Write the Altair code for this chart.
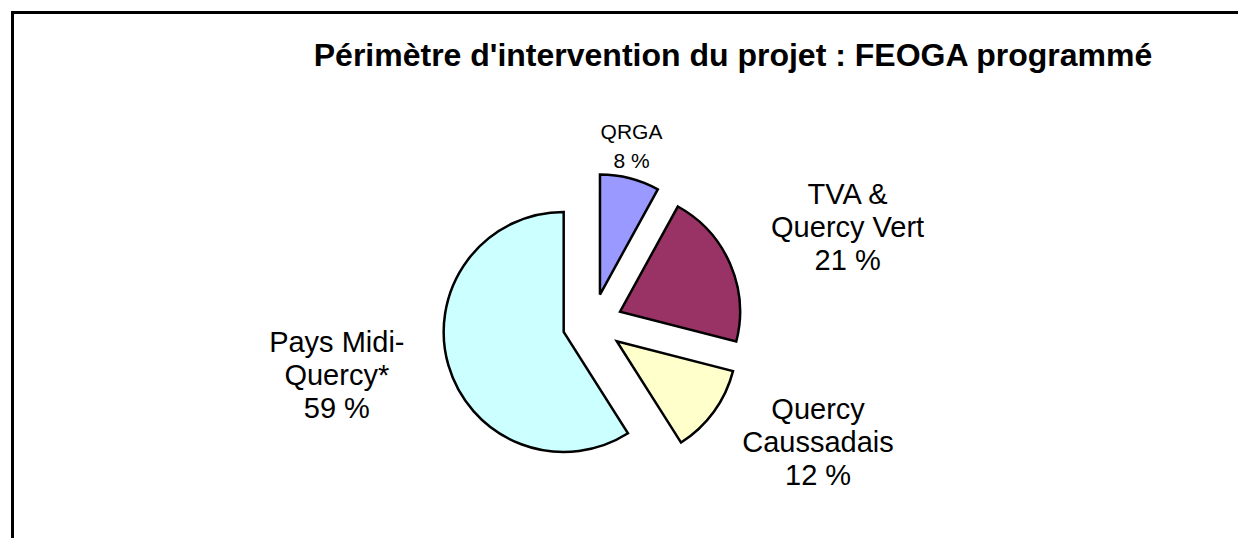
import math
import altair as alt
import pandas as pd

# ---- data ----
categories = ["QRGA", "TVA &\nQuercy Vert", "Quercy\nCaussadais", "Pays Midi-\nQuercy*"]
shares = [8, 21, 12, 59]
colors = ["#9999FF", "#993366", "#FFFFCC", "#CCFFFF"]
title_text = "Périmètre d'intervention du projet : FEOGA programmé"

labels = [f"{c}\n{s} %" for c, s in zip(categories, shares)]
df = pd.DataFrame({
    "category": categories,
    "share": shares,
    "order": list(range(len(categories))),
    "label": labels,
})
TOTAL = sum(shares)

# ---- layout constants ----
W, H = 1230, 530
CX, CY = 584.5, 315.6          # pie centre
PIE_R = 120
EXPLODE = 30
RING_CX, RING_CY = 590, 307    # side label ring centre
RING_A, RING_B = 272, 218      # side label ring radii (label centres)
LABEL_R_TOP = 157              # top label ring (label bottoms)
FONT = "Liberation Sans"

base = alt.Chart(df).transform_window(
    cum="sum(share)", sort=[alt.SortField("order")], frame=[None, 0]
).transform_calculate(
    start="datum.cum - datum.share",
    ang=f"2*PI*(datum.cum - datum.share/2)/{TOTAL}",
).transform_calculate(
    ex=f"{CX} + {EXPLODE}*sin(datum.ang)",
    ey=f"{CY} - {EXPLODE}*cos(datum.ang)",
    side="abs(sin(datum.ang)) >= 0.5",
).transform_calculate(
    lx=f"datum.side ? {RING_CX} + {RING_A}*sin(datum.ang) : {CX} + {LABEL_R_TOP}*sin(datum.ang)",
    ly=f"datum.side ? {RING_CY} - {RING_B}*cos(datum.ang) : {CY} - {LABEL_R_TOP}*cos(datum.ang)",
)

arcs = base.mark_arc(radius=PIE_R, stroke="black", strokeWidth=2.5).encode(
    theta=alt.Theta("start:Q", scale=alt.Scale(domain=[0, TOTAL], range=[0, 2 * math.pi]), stack=None),
    theta2="cum:Q",
    x=alt.X("ex:Q", scale=None, axis=None),
    y=alt.Y("ey:Q", scale=None, axis=None),
    color=alt.Color("category:N", scale=alt.Scale(domain=categories, range=colors), legend=None),
    order=alt.Order("order:Q"),
)

def label_layer(cond, baseline, size, lh, dy):
    return base.transform_filter(cond).mark_text(
        align="center", baseline=baseline, fontSize=size, lineHeight=lh, dy=dy,
        lineBreak="\n", font=FONT, color="black",
    ).encode(
        x=alt.X("lx:Q", scale=None, axis=None),
        y=alt.Y("ly:Q", scale=None, axis=None),
        text="label:N",
    )

# three-line side labels centred on the ring; two-line top label sitting on its ring
side_labels = label_layer("datum.side", "middle", 29, 33, -33)
top_labels = label_layer("!datum.side && cos(datum.ang) > 0", "bottom", 21, 29, -29)
bottom_labels = label_layer("!datum.side && cos(datum.ang) <= 0", "top", 21, 29, 0)

one = pd.DataFrame({"title": [title_text]})
border_left = alt.Chart(one).mark_rule(color="black", strokeWidth=3, strokeCap="square").encode(
    x=alt.value(4.5), y=alt.value(4.5), y2=alt.value(H)
)
border_top = alt.Chart(one).mark_rule(color="black", strokeWidth=3, strokeCap="square").encode(
    y=alt.value(4.5), x=alt.value(4.5), x2=alt.value(W)
)
title = alt.Chart(one).mark_text(
    font=FONT, fontSize=32, fontWeight="bold", color="black",
    align="center", baseline="alphabetic",
).encode(x=alt.value(725), y=alt.value(58), text="title:N")

chart = alt.layer(
    border_left, border_top, title, arcs, side_labels, top_labels, bottom_labels
).properties(
    width=W,
    height=H,
    autosize=alt.AutoSizeParams(type="none"),
    padding=0,
    background="white",
).configure_view(stroke=None)

chart.save("out.html", embed_options={"renderer": "svg", "actions": False})
